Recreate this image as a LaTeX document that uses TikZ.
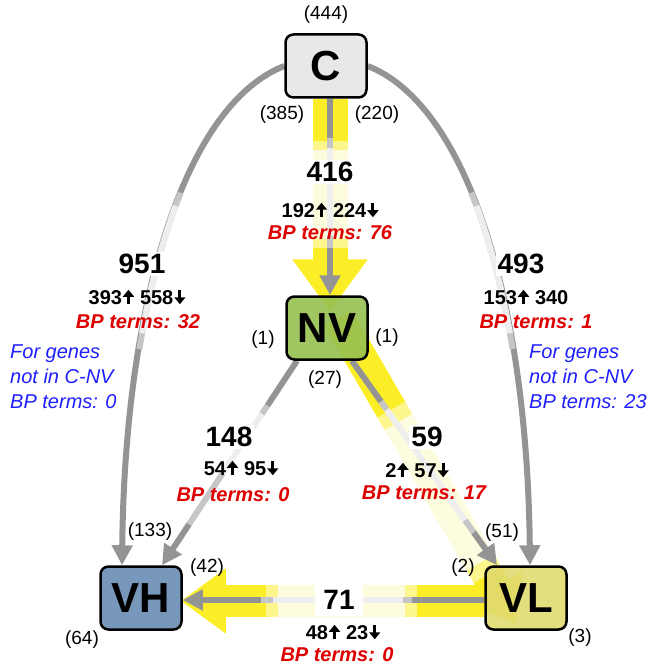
\documentclass[tikz,border=0pt]{standalone}
\usepackage{fontspec}
\setmainfont{Liberation Sans}
\usepackage{xcolor}
\usetikzlibrary{positioning,arrows.meta,calc,backgrounds}

\definecolor{cfill}{RGB}{230,230,230}
\definecolor{nvfill}{RGB}{150,192,80}
\definecolor{vhfill}{RGB}{104,140,180}
\definecolor{vlfill}{RGB}{224,218,112}
\definecolor{bandyellow}{RGB}{252,238,38}
\definecolor{bandmid}{RGB}{253,246,140}
\definecolor{bandpale}{RGB}{254,252,222}
\definecolor{linegray}{RGB}{148,148,148}
\definecolor{midgray}{RGB}{198,198,198}
\definecolor{palegray}{RGB}{238,238,238}
\definecolor{bpred}{RGB}{222,0,0}
\definecolor{noteblue}{RGB}{30,30,255}

% bold up / down arrows after the counts
\newcommand{\arrup}{\hspace{1pt}\tikz[baseline=0pt]\draw[line width=3pt,-{Triangle[width=11pt,length=7pt]}] (0pt,0pt) -- (0pt,14.5pt);\hspace{6pt}}
\newcommand{\arrdn}{\hspace{1pt}\tikz[baseline=0pt]\draw[line width=3pt,-{Triangle[width=11pt,length=7pt]}] (0pt,14.5pt) -- (0pt,0pt);}

\begin{document}
\begin{tikzpicture}[
  x=1pt, y=-1pt,
  group/.style={rectangle, rounded corners=8pt, draw=black, line width=2.5pt,
                minimum width=81pt, minimum height=63pt, fill opacity=0.9, text opacity=1,
                font=\fontsize{42}{42}\selectfont\bfseries},
  cnt/.style={font=\fontsize{19}{20}\selectfont},
  big/.style={font=\fontsize{28}{30}\selectfont\bfseries, fill=white, inner sep=2pt},
  updn/.style={font=\fontsize{20}{22}\selectfont\bfseries},
  bp/.style={font=\fontsize{20}{22}\selectfont\bfseries\itshape, text=bpred},
  note/.style={font=\fontsize{20}{25}\selectfont\itshape, text=noteblue, align=left,
               anchor=north west, inner sep=0pt},
  gline/.style={line width=6pt, color=linegray},
  band/.style={line width=32pt, color=bandyellow},
  gtip/.style={-{Triangle[width=20pt,length=20pt]}}
]
\useasboundingbox (0,0) rectangle (653,668);

% Groups
\node[group, fill=cfill] (C) at (326,66) {C};
\node[group, fill=nvfill] (NV) at (327,328) {NV};
\node[group, fill=vhfill] (VH) at (141,598) {VH};
\node[group, fill=vlfill] (VL) at (526,598) {VL};

% End points of the connectors
\coordinate (cnv1) at ([xshift=4pt]C.south);
\coordinate (cnv2) at ([xshift=3pt]NV.north);
\coordinate (cnvy) at ([xshift=3pt,yshift=-16pt]NV.north);
\coordinate (nvvl1) at ([xshift=25pt]NV.south);
\coordinate (nvvl2) at ([xshift=-29pt]VL.north);
\coordinate (nvvly1) at ([xshift=11pt,yshift=10pt]NV.center);
\coordinate (nvvly2) at ([xshift=-10pt,yshift=-26pt]VL.center);
\coordinate (nvvh1) at ([xshift=-30pt]NV.south);
\coordinate (nvvh2) at ([xshift=21pt]VH.north);
\coordinate (vlvh1) at ([yshift=-2pt]VL.west);
\coordinate (vlvh2) at ([yshift=-2pt]VH.east);
\coordinate (vlvhy1) at ([yshift=-3pt]VL.west);
\coordinate (vlvhy2) at ([xshift=-2pt,yshift=-3pt]VH.east);
\coordinate (cvh) at ([xshift=-19pt]VH.north);
\coordinate (cvl) at ([xshift=4pt]VL.north);

\begin{pgfonlayer}{background}
% Yellow bands
\foreach \a/\b/\col in {0/0.2/bandyellow, 0.2/0.24/bandmid, 0.24/0.66/bandpale, 0.66/0.7/bandmid}
  \draw[band, line width=35pt, \col] ($(cnv1)!\a!(cnvy)$) -- ($(cnv1)!\b!(cnvy)$);
\draw[band, line width=35pt, -{Triangle[width=72pt,length=52pt]}] ($(cnv1)!0.7!(cnvy)$) -- (cnvy);

\foreach \a/\b/\col in {0/0.3/bandyellow, 0.3/0.34/bandmid, 0.34/0.8/bandpale, 0.8/0.84/bandmid}
  \draw[band, \col] ($(nvvly1)!\a!(nvvly2)$) -- ($(nvvly1)!\b!(nvvly2)$);
\draw[band, -{Triangle[width=60pt,length=42pt]}] ($(nvvly1)!0.84!(nvvly2)$) -- (nvvly2);

\foreach \a/\b/\col in {0/0.22/bandyellow, 0.22/0.26/bandmid, 0.26/0.68/bandpale, 0.68/0.72/bandmid}
  \draw[band, \col] ($(vlvhy1)!\a!(vlvhy2)$) -- ($(vlvhy1)!\b!(vlvhy2)$);
\draw[band, -{Triangle[width=62pt,length=45pt]}] ($(vlvhy1)!0.72!(vlvhy2)$) -- (vlvhy2);

% Gray arrows, straight
\foreach \a/\b/\col in {0/0.2/linegray, 0.2/0.25/midgray, 0.25/0.7/palegray, 0.7/0.76/midgray}
  \draw[gline, \col] ($(cnv1)!\a!(cnv2)$) -- ($(cnv1)!\b!(cnv2)$);
\draw[gline, gtip] ($(cnv1)!0.76!(cnv2)$) -- (cnv2);

\foreach \a/\b/\col in {0/0.2/linegray, 0.2/0.24/midgray, 0.24/0.78/palegray, 0.78/0.84/midgray}
  \draw[gline, \col] ($(nvvl1)!\a!(nvvl2)$) -- ($(nvvl1)!\b!(nvvl2)$);
\draw[gline, gtip] ($(nvvl1)!0.84!(nvvl2)$) -- (nvvl2);

\foreach \a/\b/\col in {0/0.22/linegray, 0.22/0.26/midgray, 0.26/0.55/palegray, 0.55/0.8/midgray}
  \draw[gline, \col] ($(nvvh1)!\a!(nvvh2)$) -- ($(nvvh1)!\b!(nvvh2)$);
\draw[gline, gtip] ($(nvvh1)!0.8!(nvvh2)$) -- (nvvh2);

\foreach \a/\b/\col in {0/0.24/linegray, 0.24/0.27/midgray, 0.27/0.7/palegray, 0.7/0.74/midgray}
  \draw[gline, \col] ($(vlvh1)!\a!(vlvh2)$) -- ($(vlvh1)!\b!(vlvh2)$);
\draw[gline, gtip] ($(vlvh1)!0.74!(vlvh2)$) -- (vlvh2);

% Gray arrows, curved
\draw[gline, gtip] (C.west) .. controls (185,105) and (125,300) .. (cvh);
\draw[gline, midgray, dash pattern=on 0pt off 168pt on 162pt off 2000pt]
  (C.west) .. controls (185,105) and (125,300) .. (cvh);
\draw[gline, palegray, dash pattern=on 0pt off 182pt on 132pt off 2000pt]
  (C.west) .. controls (185,105) and (125,300) .. (cvh);

\draw[gline, gtip] (C.east) .. controls (467,105) and (527,300) .. (cvl);
\draw[gline, midgray, dash pattern=on 0pt off 168pt on 162pt off 2000pt]
  (C.east) .. controls (467,105) and (527,300) .. (cvl);
\draw[gline, palegray, dash pattern=on 0pt off 182pt on 132pt off 2000pt]
  (C.east) .. controls (467,105) and (527,300) .. (cvl);
\end{pgfonlayer}

% Counts at the groups
\node[cnt] (kC) at (326,15) {(444)};
\node[cnt] (kCl) at (282,115) {(385)};
\node[cnt] (kCr) at (377,115) {(220)};
\node[cnt] (kNVl) at (263,340) {(1)};
\node[cnt] (kNVr) at (387,338) {(1)};
\node[cnt] (kNVb) at (325,380) {(27)};
\node[cnt] (kVHa) at (150,532) {(133)};
\node[cnt] (kVHb) at (207,568) {(42)};
\node[cnt] (kVH) at (82,640) {(64)};
\node[cnt] (kVLa) at (502,533) {(51)};
\node[cnt] (kVLb) at (463,568) {(2)};
\node[cnt] (kVL) at (580,638) {(3)};

% C - NV
\node[big] (n416) at (330,172) {416};
\node[updn] (u416) at (330,210) {192\arrup224\arrdn};
\node[bp] (b416) at (330,233) {BP terms: 76};

% C - VH
\node[big] (n951) at (142,264) {951};
\node[updn] (u951) at (137,297) {393\arrup558\arrdn};
\node[bp] (b951) at (138,322) {BP terms: 32};
\node[note] (notel) at (10,345) {For genes\\not in C-NV\\BP terms: 0};

% C - VL
\node[big] (n493) at (521,264) {493};
\node[updn] (u493) at (526,297) {153\arrup340};
\node[bp] (b493) at (536,322) {BP terms: 1};
\node[note] (noter) at (529,345) {For genes\\not in C-NV\\BP terms: 23};

% NV - VH
\node[big] (n148) at (229,437) {148};
\node[updn] (u148) at (241,468) {54\arrup95\arrdn};
\node[bp] (b148) at (233,495) {BP terms: 0};

% NV - VL
\node[big] (n59) at (427,437) {59};
\node[updn] (u59) at (417,470) {2\arrup57\arrdn};
\node[bp] (b59) at (424,493) {BP terms: 17};

% VL - VH
\node[big, minimum width=48pt, minimum height=32pt] (n71) at (339,600) {71};
\node[updn] (u71) at (343,632) {48\arrup23\arrdn};
\node[bp] (b71) at (337,655) {BP terms: 0};

\end{tikzpicture}
\end{document}
